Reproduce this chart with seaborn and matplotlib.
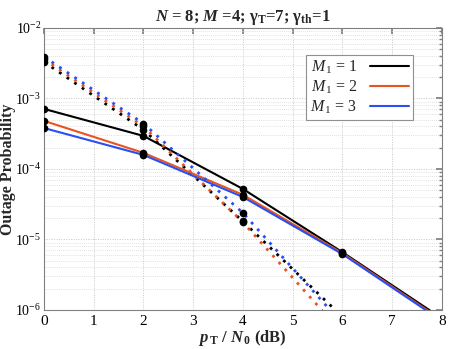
import matplotlib
matplotlib.use("Agg")
import matplotlib.pyplot as plt
import seaborn as sns
import numpy as np
import pandas as pd
from matplotlib.lines import Line2D
from matplotlib.ticker import LogLocator, NullFormatter, FixedLocator

# ---- data ----
snr_solid = [0, 2, 4, 6, 8]
solid_m1_1 = [7.1e-4, 2.94e-4, 5.2e-5, 6.6e-6, 7.6e-7]
solid_m1_2 = [4.8e-4, 1.69e-4, 4.3e-5, 6.4e-6, 7.2e-7]
solid_m1_3 = [3.8e-4, 1.58e-4, 4.0e-5, 6.2e-6, 7.0e-7]

snr_dotted = [0, 2, 4, 6]
dotted_m1_1 = [3.3e-3, 3.6e-4, 1.8e-5, 8.0e-7]
dotted_m1_2 = [3.6e-3, 4.0e-4, 1.75e-5, 4.7e-7]
dotted_m1_3 = [3.9e-3, 4.4e-4, 2.38e-5, 6.4e-7]

labels = [r"$M_{\,1}$ = 1", r"$M_{\,1}$ = 2", r"$M_{\,1}$ = 3"]
colors = ["#000000", "#E8531F", "#2A4EF2"]
xticks = [0, 1, 2, 3, 4, 5, 6, 7, 8]

sns.set_theme(style="white")
plt.rcParams["font.family"] = ["Liberation Serif", "DejaVu Serif"]
plt.rcParams["mathtext.fontset"] = "custom"
plt.rcParams["mathtext.rm"] = "Liberation Serif"
plt.rcParams["mathtext.it"] = "Liberation Serif:italic"
plt.rcParams["mathtext.bf"] = "Liberation Serif:bold"
plt.rcParams["mathtext.bfit"] = "Liberation Serif:bold:italic"

fig = plt.figure(figsize=(4.68, 3.49), dpi=100)
ax = fig.add_axes([0.094, 0.112, 0.850, 0.808])

solid = [solid_m1_1, solid_m1_2, solid_m1_3]
dotted = [dotted_m1_1, dotted_m1_2, dotted_m1_3]

for i in range(3):
    df_s = pd.DataFrame({"x": snr_solid, "y": solid[i]})
    sns.lineplot(data=df_s, x="x", y="y", ax=ax, color=colors[i], lw=1.5)
    df_d = pd.DataFrame({"x": snr_dotted, "y": dotted[i]})
    sns.lineplot(data=df_d, x="x", y="y", ax=ax, color=colors[i], lw=2.0,
                 linestyle=(0, (1, 2.3)))
for i in range(3):
    ax.plot(snr_solid, solid[i], "o", color="black", ms=4.5, zorder=5)
    ax.plot(snr_dotted, dotted[i], "o", color="black", ms=4.5, zorder=5)

ax.set_yscale("log")
ax.set_xlim(0, 8)
ax.set_ylim(1e-6, 1e-2)
ax.xaxis.set_major_locator(FixedLocator(xticks))
ax.yaxis.set_major_locator(LogLocator(base=10, numticks=10))
ax.yaxis.set_minor_locator(LogLocator(base=10, subs=np.arange(2, 10), numticks=20))
ax.yaxis.set_minor_formatter(NullFormatter())

ax.grid(True, which="major", color="#c8c8c8", linestyle=(0, (1, 1.5)), lw=0.7)
ax.grid(True, which="minor", axis="y", color="#d8d8d8", linestyle=(0, (1, 1.5)), lw=0.6)
ax.tick_params(which="both", direction="in", colors="#808080", labelcolor="black",
               labelsize=11, top=True, right=True, pad=3.5)
ax.tick_params(axis="y", labelsize=10, pad=2)
ax.tick_params(which="major", length=4)
ax.tick_params(which="minor", length=2)
for sp in ax.spines.values():
    sp.set_color("#808080")
    sp.set_linewidth(0.8)

ax.set_xlabel(r"$\mathbfit{p}_{\,\mathbf{T}}$ / $\mathbfit{N}_{\,\mathbf{0}}$ (dB)",
              fontsize=12, fontweight="bold", labelpad=0)
ax.set_ylabel("Outage Probability", fontsize=11.5, fontweight="bold")
ax.yaxis.set_label_coords(-0.07, 0.5)
ax.set_title(r"$\mathbfit{N}$ = 8; $\mathbfit{M}$ =4; γ$_{\mathbf{T}}$=7; γ$_{\mathbf{th}}$=1",
             fontsize=12, fontweight="bold", pad=5)

handles = [Line2D([0], [0], color=c, lw=1.5) for c in colors]
leg = ax.legend(handles, labels, loc="upper right", bbox_to_anchor=(0.947, 0.932),
                markerfirst=False, fontsize=11.5, frameon=True, fancybox=False,
                edgecolor="#909090", framealpha=1, handlelength=2.4,
                borderpad=0.25, labelspacing=0.15, handletextpad=0.8)
leg.get_frame().set_linewidth(0.8)

fig.savefig("out.png", dpi=100)
